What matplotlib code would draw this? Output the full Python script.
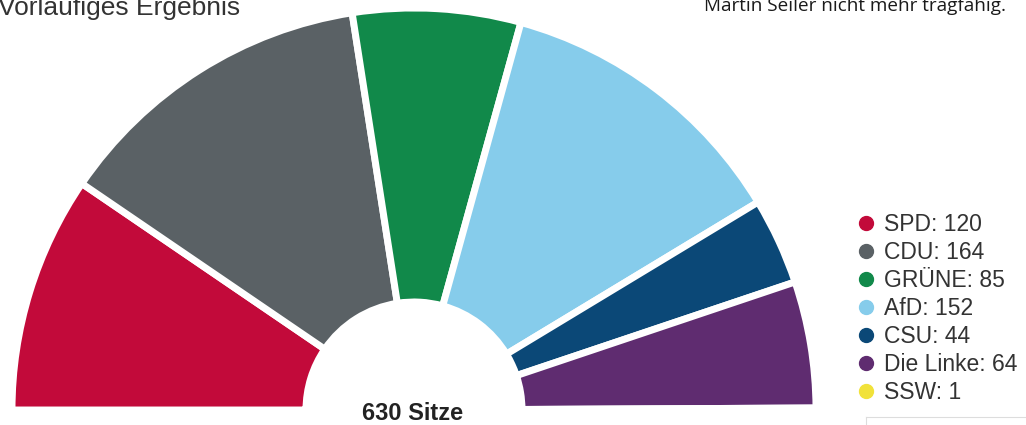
import matplotlib.pyplot as plt
from matplotlib.lines import Line2D

# Sitzverteilung (vorläufiges Ergebnis)
parteien = ['SPD', 'CDU', 'GRÜNE', 'AfD', 'CSU', 'Die Linke', 'SSW']
sitze = [120, 164, 85, 152, 44, 64, 1]
farben = ['#C20A3A', '#5A6165', '#11894A', '#86CCEB', '#0B4877', '#5F2C70', '#F1E23A']
gesamt = sum(sitze)

fig = plt.figure(figsize=(10.26, 4.25), dpi=100)
ax = fig.add_axes([0, 0, 1, 1])

# Halbkreis: untere Hälfte unsichtbar
werte = sitze + [gesamt]
cols = farben + ['none']
wedges, _ = ax.pie(werte, colors=cols, startangle=180, counterclock=False,
                   center=(414, 15), radius=402, frame=True,
                   wedgeprops=dict(width=294, edgecolor='white', linewidth=5))
wedges[-1].set_edgecolor('none')
ax.set_xlim(0, 1026)
ax.set_ylim(0, 425)
ax.axis('off')

ax.text(413, 11, f'{gesamt} Sitze', ha='center', va='center',
        fontsize=17, fontweight='bold', family='Liberation Sans', color='#222222')

# Überschriften (oben angeschnitten)
ax.text(-2, 410, 'Vorläufiges Ergebnis', ha='left', va='baseline',
        fontsize=19, family='Liberation Sans', color='#333333')
ax.text(704, 414, 'Martin Seiler nicht mehr tragfähig.', ha='left', va='baseline',
        fontsize=13.6, family='Open Sans', color='#1a1a1a')

handles = [Line2D([], [], marker='o', linestyle='none', markersize=10,
                  markerfacecolor=c, markeredgecolor=c) for c in farben]
labels = [f'{p}: {s}' for p, s in zip(parteien, sitze)]
ax.legend(handles, labels, loc='upper left', bbox_to_anchor=(845 / 1026, 1 - 204 / 425),
          frameon=False, handletextpad=0.3, labelspacing=0.22, borderaxespad=0,
          handlelength=1.0, prop={'family': 'Liberation Sans', 'size': 16.5},
          labelcolor='#333333')

# dünne Linie unten rechts
ax.plot([866, 1026], [8, 8], color='#dddddd', lw=0.8)
ax.plot([866, 866], [0, 8], color='#dddddd', lw=0.8)

fig.savefig('out.png', dpi=100)
